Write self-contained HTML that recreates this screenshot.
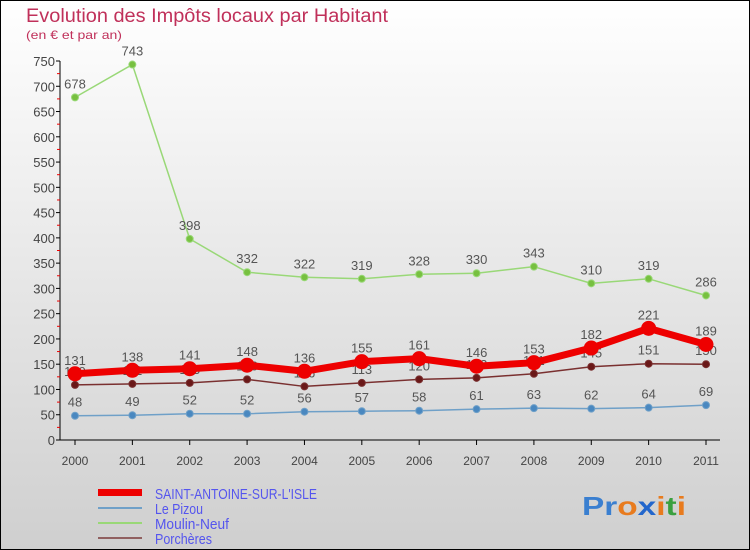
<!DOCTYPE html>
<html><head><meta charset="utf-8"><style>
html,body{margin:0;padding:0;width:750px;height:550px;overflow:hidden}
svg{display:block;font-family:"Liberation Sans",sans-serif}
</style></head><body>
<svg id="chart" width="750" height="550" viewBox="0 0 750 550" xmlns="http://www.w3.org/2000/svg">
<defs><linearGradient id="bg" x1="0" y1="0" x2="0" y2="1"><stop offset="0" stop-color="#ffffff"/><stop offset="1" stop-color="#cfcfcf"/></linearGradient></defs>
<rect x="0.5" y="0.5" width="749" height="549" fill="url(#bg)" stroke="#000"/>
<text x="26" y="22" font-size="19" fill="#c0305a" textLength="362" lengthAdjust="spacingAndGlyphs">Evolution des Impôts locaux par Habitant</text>
<text x="26" y="39" font-size="12" fill="#c0305a" textLength="96" lengthAdjust="spacingAndGlyphs">(en € et par an)</text>
<g id="axes"></g><g id="series"></g>
<g>
<rect x="98" y="489" width="44" height="7" fill="#e00"/>
<rect x="98" y="507" width="44" height="2" fill="#6fa0c8"/>
<rect x="98" y="522" width="44" height="2" fill="#99d877"/>
<rect x="98" y="537" width="44" height="2" fill="#906060"/>
<text x="155" y="499" font-size="15" fill="#5555ee" textLength="162" lengthAdjust="spacingAndGlyphs">SAINT-ANTOINE-SUR-L'ISLE</text>
<text x="155" y="514" font-size="15" fill="#5555ee" textLength="48" lengthAdjust="spacingAndGlyphs">Le Pizou</text>
<text x="155" y="529" font-size="15" fill="#5555ee" textLength="74" lengthAdjust="spacingAndGlyphs">Moulin-Neuf</text>
<text x="155" y="544" font-size="15" fill="#5555ee" textLength="57" lengthAdjust="spacingAndGlyphs">Porchères</text>
</g>
<text x="582" y="515" font-size="26" font-weight="bold" textLength="104" lengthAdjust="spacingAndGlyphs"><tspan fill="#3a7fd0">Pr</tspan><tspan fill="#e87b1e">o</tspan><tspan fill="#2266cc">x</tspan><tspan fill="#e87b1e">i</tspan><tspan fill="#3aa040">t</tspan><tspan fill="#e87b1e">i</tspan></text>
</svg>
<script>
const years=[2000,2001,2002,2003,2004,2005,2006,2007,2008,2009,2010,2011];
const saintAntoine=[131,138,141,148,136,155,161,146,153,182,221,189];
const lePizou=[48,49,52,52,56,57,58,61,63,62,64,69];
const moulinNeuf=[678,743,398,332,322,319,328,330,343,310,319,286];
const porcheres=[109,111,113,120,106,113,120,123,131,145,151,150];
const yTicks=[0,50,100,150,200,250,300,350,400,450,500,550,600,650,700,750];
const NS="http://www.w3.org/2000/svg";
function xs(i){return 75+i*(706-75)/(years.length-1);}
function ys(v){return 440-v*(440-61)/750;}
function mk(tag,attrs,parent,txt){const e=document.createElementNS(NS,tag);for(const k in attrs)e.setAttribute(k,attrs[k]);if(txt!==undefined)e.textContent=txt;parent.appendChild(e);return e;}
const ax=document.getElementById('axes');
const yl=mk('line',{x1:60,y1:ys(750),x2:60,y2:440,stroke:'#000'},ax);


const xl=mk('line',{x1:60,y1:440,x2:720,y2:440,stroke:'#000'},ax);


yTicks.forEach((v,i)=>{
  mk('line',{x1:56,y1:ys(v),x2:60,y2:ys(v),stroke:'#000'},ax);
  if(i<yTicks.length-1) mk('line',{x1:57,y1:ys(v+25),x2:60,y2:ys(v+25),stroke:'#e00'},ax);
  const t=mk('text',{x:55,y:ys(v)+5,'font-size':13,fill:'#444','text-anchor':'end'},ax,String(v));
  
  
});
years.forEach((y,i)=>{
  mk('line',{x1:xs(i),y1:440,x2:xs(i),y2:445,stroke:'#000'},ax);
  const t=mk('text',{x:xs(i),y:465,'font-size':12,fill:'#444','text-anchor':'middle'},ax,String(y));
  
  
});
const sg=document.getElementById('series');
function draw(name,data,color,w,r,dot){
  const g=mk('g',{},sg);
  
  
  const p=mk('polyline',{points:data.map((v,i)=>xs(i)+','+ys(v)).join(' '),fill:'none',stroke:color,'stroke-width':w,'stroke-linejoin':'round'},g);
  
  
  data.forEach((v,i)=>{
    const c=mk('circle',{cx:xs(i),cy:ys(v),r:r,fill:dot,stroke:color,'stroke-width':1},g);
    
    
    const t=mk('text',{x:xs(i),y:ys(v)-9,'font-size':13,fill:'#555','text-anchor':'middle'},g,String(v));
    
    
  });
}
draw('porcheres',porcheres,'#7a3030',1.5,3.5,'#6a1818');
draw('le-pizou',lePizou,'#6fa0c8',1.5,3.5,'#4a88c0');
draw('moulin-neuf',moulinNeuf,'#99d877',1.5,3.5,'#77c040');
draw('saint-antoine',saintAntoine,'#ee0000',7,7,'#ee0000');
</script>
</body></html>
